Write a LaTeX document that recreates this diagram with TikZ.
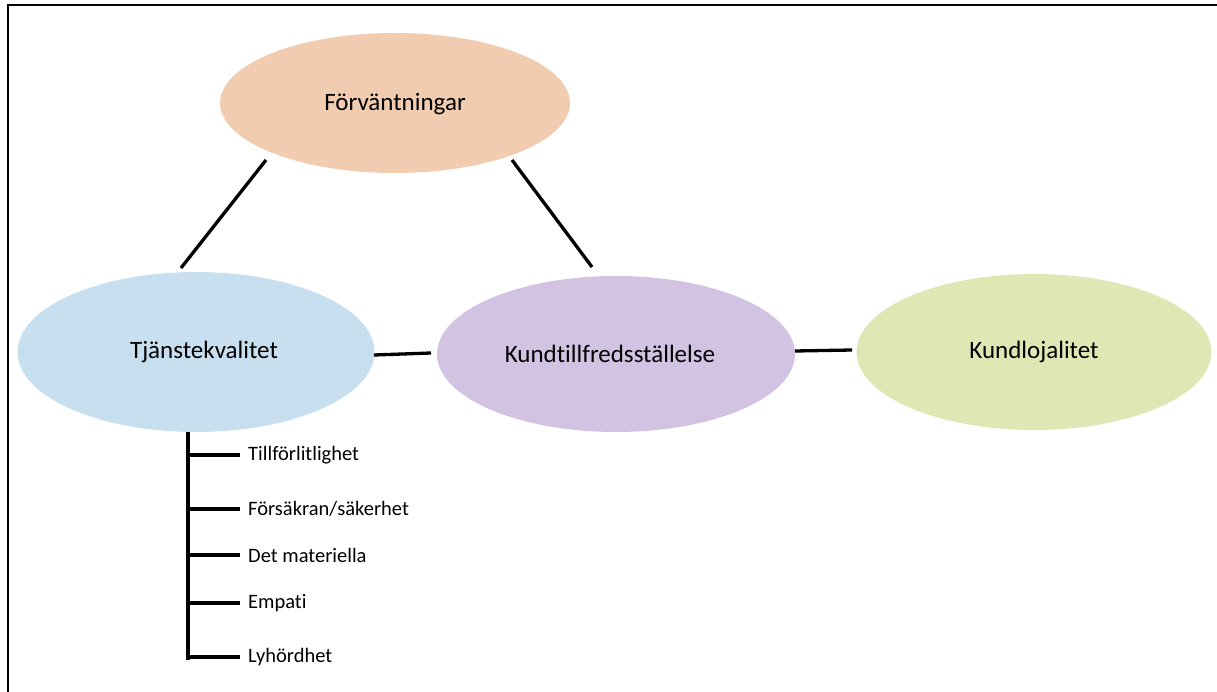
\documentclass[tikz,border=0pt]{standalone}
\usepackage{fontspec}
\setmainfont{Carlito}[Ligatures={NoCommon}]
\usetikzlibrary{shapes.geometric}
\definecolor{cexp}{HTML}{F1CCB0}
\definecolor{cqual}{HTML}{C8DFEF}
\definecolor{csat}{HTML}{D3C3E3}
\definecolor{cloy}{HTML}{DFE8B5}
\begin{document}
\begin{tikzpicture}[x=1pt,y=-1pt,
  oval/.style={ellipse, draw=none, inner sep=0pt},
  otext/.style={inner sep=0pt, font=\fontsize{25}{30}\selectfont},
  conn/.style={line width=3.3pt, black},
  item/.style={anchor=west, inner sep=0pt, font=\fontsize{20.5}{24}\selectfont}]
\useasboundingbox (0,0) rectangle (1217,692);
\coordinate (bl) at (8,692);
\coordinate (tl) at (8,5);
\coordinate (tr) at (1217,5);
\draw[line width=2.8pt] (bl) -- (tl) -- (tr);
\node[oval, fill=cexp, minimum width=350, minimum height=140] (exp) at (395,103) {};
\node[oval, fill=cqual, minimum width=357, minimum height=160] (qual) at (196,352) {};
\node[oval, fill=csat, minimum width=358, minimum height=156] (sat) at (616,354) {};
\node[oval, fill=cloy, minimum width=355, minimum height=156] (loy) at (1034,352) {};
\node[otext] (expt) at ([yshift=-1]exp.center) {Förväntningar};
\node[otext] (qualt) at ([xshift=8]qual.center) {Tjänstekvalitet};
\node[otext] (satt) at ([xshift=-6]sat.center) {Kundtillfredsställelse};
\node[otext] (loyt) at (loy.center) {Kundlojalitet};
\coordinate (a1) at (266,160); \coordinate (a2) at (181,268);
\coordinate (b1) at (512,160); \coordinate (b2) at (592,267);
\coordinate (c1) at (374,355); \coordinate (c2) at (431,353);
\coordinate (d1) at (795,351); \coordinate (d2) at (852,350);
\draw[conn] (a1) -- (a2);
\draw[conn] (b1) -- (b2);
\draw[conn] (c1) -- (c2);
\draw[conn] (d1) -- (d2);
\coordinate (vt) at (188,432); \coordinate (vb) at (188,660);
\draw[conn] (vt) -- (vb);
\foreach \y/\t/\n in {455/Tillförlitlighet/i1, 509/Försäkran\slash säkerhet/i2, 555/Det materiella/i3, 603/Empati/i4, 657/Lyhördhet/i5}{
  \node[item] (\n) at (248,\y) {\t};
  \draw[conn] (188,\y) -- (240,\y);
}
\end{tikzpicture}
\end{document}
